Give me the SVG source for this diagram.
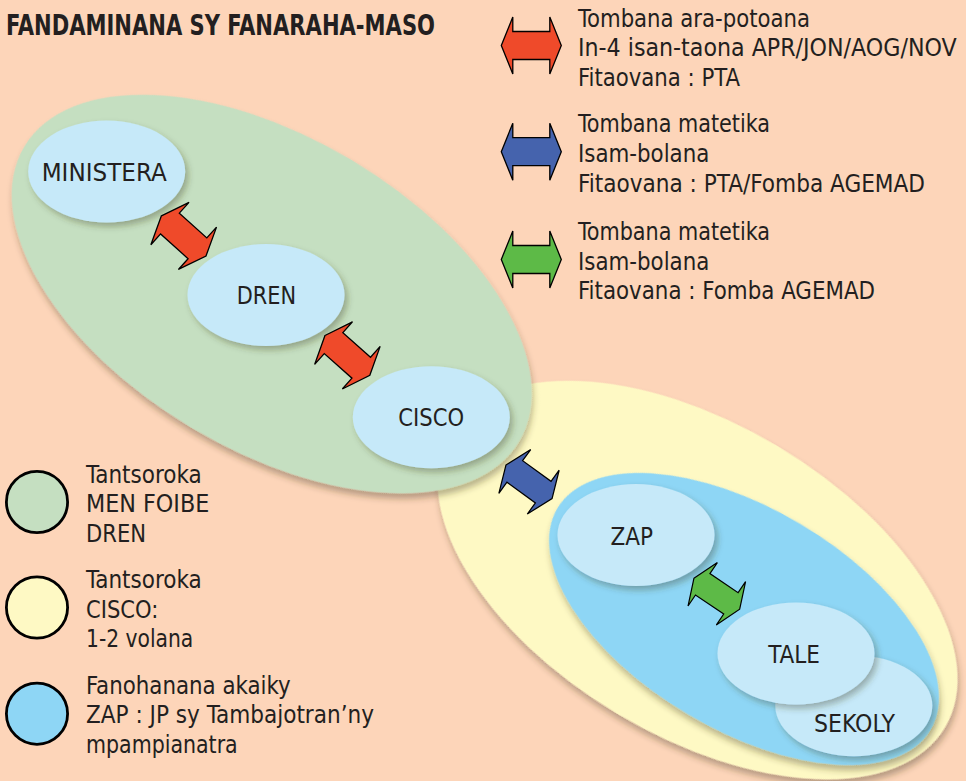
<svg xmlns="http://www.w3.org/2000/svg" xmlns:xlink="http://www.w3.org/1999/xlink" width="966" height="781" viewBox="0 0 966 781">
<style>
text{font-family:"Liberation Sans Narrow","Arial Narrow","DejaVu Sans Condensed","Liberation Sans",sans-serif;font-stretch:condensed;fill:#231f20;font-size:24px}
.title{font-weight:bold;font-size:28px}
.node{fill:#c6e9f9}
.arrow{stroke:#000;stroke-width:1.3;stroke-linejoin:miter}
.leg{stroke:#000;stroke-width:2.8}
</style>
<defs>
<filter id="sh" x="-20%" y="-20%" width="140%" height="140%">
<feDropShadow dx="3" dy="4" stdDeviation="3" flood-color="#3a3a20" flood-opacity="0.35"/>
</filter>
<filter id="shb" x="-10%" y="-10%" width="120%" height="120%">
<feDropShadow dx="4" dy="4" stdDeviation="3" flood-color="#3a3020" flood-opacity="0.35"/>
</filter>
<path id="arr" d="M-30,0 L-18.5,-28.5 L-18.5,-14 L18.5,-14 L18.5,-28.5 L30,0 L18.5,28.5 L18.5,14 L-18.5,14 L-18.5,28.5 Z"/>
</defs>
<rect width="966" height="781" fill="#fdd5b9"/>

<g id="title"><text class="title" x="6" y="35" textLength="429" lengthAdjust="spacingAndGlyphs">FANDAMINANA SY FANARAHA-MASO</text></g>

<g id="region-cisco"><ellipse cx="697.5" cy="580" rx="288" ry="156" transform="rotate(30.8 697.5 580)" fill="#fef9c4" filter="url(#shb)"/></g>
<g id="region-zap"><ellipse cx="744" cy="619" rx="217" ry="110.6" transform="rotate(30.7 744 619)" fill="#8ed6f5" filter="url(#shb)"/></g>
<g id="region-men"><ellipse cx="271.7" cy="294" rx="288" ry="156" transform="rotate(30.8 271.7 294)" fill="#c5dfc1" filter="url(#shb)"/></g>

<g id="node-ministera"><ellipse class="node" cx="106.7" cy="171.5" rx="78.5" ry="51" filter="url(#sh)"/><text x="41.7" y="181" textLength="125" lengthAdjust="spacingAndGlyphs">MINISTERA</text></g>
<g id="node-dren"><ellipse class="node" cx="266" cy="295" rx="78.5" ry="51" filter="url(#sh)"/><text x="236.7" y="304.3" textLength="59.3" lengthAdjust="spacingAndGlyphs">DREN</text></g>
<g id="node-cisco"><ellipse class="node" cx="431.3" cy="417.2" rx="78.5" ry="51" filter="url(#sh)"/><text x="398.3" y="425.7" textLength="65.7" lengthAdjust="spacingAndGlyphs">CISCO</text></g>
<g id="node-zap"><ellipse class="node" cx="636" cy="535" rx="78.5" ry="51" filter="url(#sh)"/><text x="610.5" y="545" textLength="42.5" lengthAdjust="spacingAndGlyphs">ZAP</text></g>
<g id="node-sekoly"><ellipse class="node" cx="853.8" cy="705.7" rx="78.5" ry="50.5" filter="url(#sh)"/><text x="814" y="732.3" textLength="81" lengthAdjust="spacingAndGlyphs">SEKOLY</text></g>
<g id="node-tale"><ellipse class="node" cx="796" cy="653.5" rx="78.5" ry="51" filter="url(#sh)"/><text x="768.3" y="663.3" textLength="51.7" lengthAdjust="spacingAndGlyphs">TALE</text></g>

<g id="connectors">
<use xlink:href="#arr" href="#arr" class="arrow" fill="#ef4a2a" transform="translate(183.7 235.9) rotate(42)"/>
<use xlink:href="#arr" href="#arr" class="arrow" fill="#ef4a2a" transform="translate(347.4 355.4) rotate(41.6)"/>
<use xlink:href="#arr" href="#arr" class="arrow" fill="#4563ad" transform="translate(529 481.8) rotate(36) scale(0.95)"/>
<use xlink:href="#arr" href="#arr" class="arrow" fill="#5dba47" transform="translate(716.8 593.8) rotate(34) scale(0.92)"/>
</g>

<g id="legend-arrows">
<use xlink:href="#arr" href="#arr" class="arrow" fill="#ef4a2a" transform="translate(531.3 45.5)"/>
<use xlink:href="#arr" href="#arr" class="arrow" fill="#4563ad" transform="translate(531.3 151.7)"/>
<use xlink:href="#arr" href="#arr" class="arrow" fill="#5dba47" transform="translate(531.3 259.5)"/>
<text x="578" y="26.7" textLength="232" lengthAdjust="spacingAndGlyphs">Tombana ara-potoana</text>
<text x="578" y="56" textLength="378.7" lengthAdjust="spacingAndGlyphs">In-4 isan-taona APR/JON/AOG/NOV</text>
<text x="578" y="85.5" textLength="162" lengthAdjust="spacingAndGlyphs">Fitaovana : PTA</text>
<text x="578" y="132.3" textLength="192" lengthAdjust="spacingAndGlyphs">Tombana matetika</text>
<text x="578" y="162.3" textLength="131.3" lengthAdjust="spacingAndGlyphs">Isam-bolana</text>
<text x="578" y="191.7" textLength="347" lengthAdjust="spacingAndGlyphs">Fitaovana : PTA/Fomba AGEMAD</text>
<text x="578" y="240" textLength="192" lengthAdjust="spacingAndGlyphs">Tombana matetika</text>
<text x="578" y="270" textLength="131.3" lengthAdjust="spacingAndGlyphs">Isam-bolana</text>
<text x="578" y="299.3" textLength="297" lengthAdjust="spacingAndGlyphs">Fitaovana : Fomba AGEMAD</text>
</g>

<g id="legend-regions">
<circle class="leg" cx="37" cy="502" r="30.6" fill="#c5dfc1"/>
<circle class="leg" cx="37" cy="607.5" r="30.6" fill="#fef9c4"/>
<circle class="leg" cx="37" cy="713.7" r="30.6" fill="#8ed6f5"/>
<text x="86" y="483.3" textLength="115.7" lengthAdjust="spacingAndGlyphs">Tantsoroka</text>
<text x="86" y="512.3" textLength="123.3" lengthAdjust="spacingAndGlyphs">MEN FOIBE</text>
<text x="86" y="541.7" textLength="60" lengthAdjust="spacingAndGlyphs">DREN</text>
<text x="86" y="588.3" textLength="115.7" lengthAdjust="spacingAndGlyphs">Tantsoroka</text>
<text x="86" y="617.7" textLength="72.3" lengthAdjust="spacingAndGlyphs">CISCO:</text>
<text x="86" y="646.7" textLength="107.3" lengthAdjust="spacingAndGlyphs">1-2 volana</text>
<text x="86" y="694.3" textLength="204.7" lengthAdjust="spacingAndGlyphs">Fanohanana akaiky</text>
<text x="86" y="723.3" textLength="288" lengthAdjust="spacingAndGlyphs">ZAP : JP sy Tambajotran’ny</text>
<text x="86" y="752.7" textLength="151.7" lengthAdjust="spacingAndGlyphs">mpampianatra</text>
</g>
</svg>
